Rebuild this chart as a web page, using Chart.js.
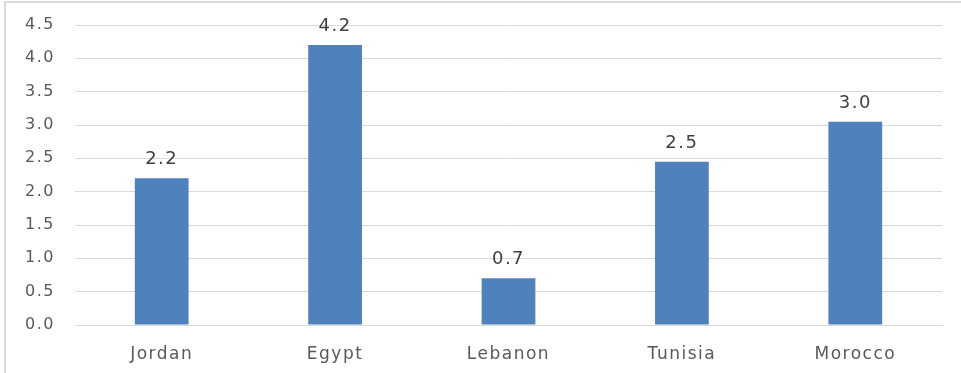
<!DOCTYPE html>
<html>
<head>
<meta charset="utf-8">
<script src="https://cdn.jsdelivr.net/npm/chart.js@4.4.1/dist/chart.umd.min.js"></script>
<style>
  html, body {
    margin: 0;
    padding: 0;
    background: #fff;
    overflow: hidden;
  }

  .wrap {
    position: relative;
    width: 961px;
    height: 373px;
    overflow: hidden;
  }

  .frame {
    position: absolute;
    left: 4px;
    top: 1px;
    width: 1000px;
    height: 400px;
    border-top: 2px solid #d9d9d9;
    border-left: 2px solid #d9d9d9;
  }

  #growth {
    position: absolute;
    left: 0;
    top: 0;
  }
</style>
</head>
<body>
<div class="wrap">
  <div class="frame"></div>
  <canvas id="growth" width="961" height="373"></canvas>
</div>

<script>
  // countries and values
  var countries = ["Jordan", "Egypt", "Lebanon", "Tunisia", "Morocco"];
  var values = [2.2, 4.2, 0.7, 2.45, 3.05];
  var yTicks = [0, 0.5, 1, 1.5, 2, 2.5, 3, 3.5, 4, 4.5];

  var barColor = "#4f81bd";
  var gridColor = "#d9d9d9";

  // wider letter spacing for all canvas text
  var spacing = {
    id: 'spacing',
    beforeUpdate: (chart) => { chart.ctx.letterSpacing = '1.5px'; },
    beforeDraw: (chart) => { chart.ctx.letterSpacing = '1.5px'; }
  };

  // value written above each bar
  var valueLabels = {
    id: 'valueLabels',
    afterDatasetsDraw: (chart) => {
      var ctx = chart.ctx;
      var meta = chart.getDatasetMeta(0);
      ctx.save();
      ctx.letterSpacing = '1.5px';
      ctx.font = '18px "DejaVu Sans"';
      ctx.fillStyle = '#404040';
      ctx.textAlign = 'center';
      ctx.textBaseline = 'alphabetic';
      meta.data.forEach((bar, i) => {
        ctx.fillText(values[i].toFixed(1), bar.x, bar.y - 14);
      });
      ctx.restore();
    }
  };

  new Chart(document.getElementById('growth'), {
    type: 'bar',
    data: {
      labels: countries,
      datasets: [{
        data: values,
        backgroundColor: barColor,
        borderWidth: 0,
        categoryPercentage: 1,
        barPercentage: 0.31
      }]
    },
    options: {
      responsive: false,
      animation: false,
      layout: {
        padding: { left: 5, right: 19, top: 25, bottom: 0 }
      },
      plugins: {
        legend: { display: false },
        tooltip: { enabled: false }
      },
      scales: {
        x: {
          grid: { display: false },
          border: { display: true, color: gridColor, width: 1 },
          ticks: {
            color: '#595959',
            font: { family: 'DejaVu Sans', size: 17 },
            padding: 11
          },
          afterFit: (scale) => { scale.height = 48; }
        },
        y: {
          min: 0,
          max: 4.5,
          afterBuildTicks: (scale) => {
            scale.ticks = yTicks.map((v) => ({ value: v }));
          },
          grid: {
            color: gridColor,
            lineWidth: 1,
            drawTicks: false
          },
          border: { display: false },
          ticks: {
            color: '#595959',
            font: { family: 'DejaVu Sans', size: 16 },
            padding: 20,
            callback: (v) => v.toFixed(1)
          },
          afterFit: (scale) => {
            scale.width = 70;
            scale.paddingTop = 0;
            scale.paddingBottom = 0;
          }
        }
      }
    },
    plugins: [spacing, valueLabels]
  });
</script>
</body>
</html>
